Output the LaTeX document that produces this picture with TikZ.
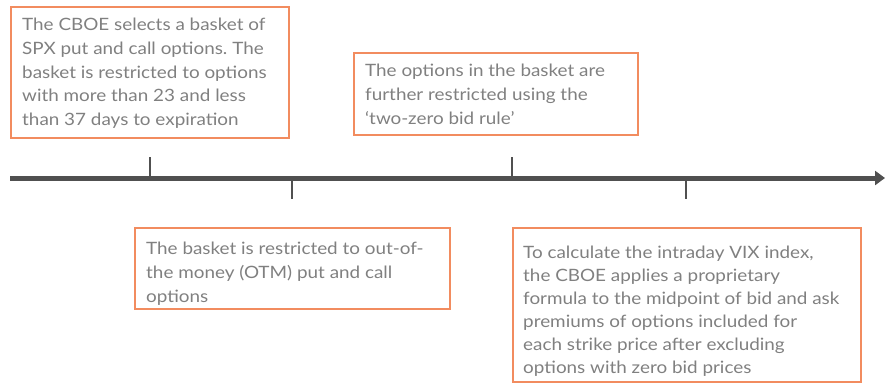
\documentclass[tikz,border=0pt]{standalone}
\usepackage{fontspec}
\setmainfont{Lato}[FakeStretch=1.11]
\usetikzlibrary{arrows.meta}
\definecolor{boxorange}{RGB}{242,140,95}
\definecolor{txtgray}{RGB}{128,128,128}
\definecolor{linegray}{RGB}{80,80,80}
\tikzset{
  infobox/.style={draw=boxorange, line width=1.5pt, anchor=north west, inner sep=0pt},
  infotext/.style={anchor=north west, align=left, inner sep=0pt, text=txtgray,
    font=\fontsize{17}{23.7}\selectfont\frenchspacing},
  tick/.style={draw=linegray, line width=2.5pt},
  axis/.style={draw=linegray, line width=5pt, -{Triangle[length=10pt,width=14pt]}}
}
\begin{document}
\begin{tikzpicture}[x=1pt,y=-1pt]
\useasboundingbox (0,0) rectangle (885,383);
% boxes
\node[infobox, minimum width=278pt, minimum height=131pt] (b1) at (10,6) {};
\node[infotext] (t1) at ([shift={(12,12)}]b1.north west)
  {The CBOE selects a basket of\\SPX put and call options. The\\basket is restricted to options\\with more than 23 and less\\than 37 days to expiration};
\node[infobox, minimum width=284pt, minimum height=82pt] (b2) at (353,52) {};
\node[infotext] (t2) at ([shift={(12,12)}]b2.north west)
  {The options in the basket are\\further restricted using the\\‘two-zero bid rule’};
\node[infobox, minimum width=315pt, minimum height=81pt] (b3) at (134,227) {};
\node[infotext] (t3) at ([shift={(12,15)}]b3.north west)
  {The basket is restricted to out-of-\\the money (OTM) put and call\\options};
\node[infobox, minimum width=348pt, minimum height=154pt] (b4) at (512,227) {};
\node[infotext, font=\fontsize{17}{23.1}\selectfont\frenchspacing] (t4) at ([shift={(11,18.5)}]b4.north west)
  {To calculate the intraday VIX index,\\the CBOE applies a proprietary\\formula to the midpoint of bid and ask\\premiums of options included for\\each strike price after excluding\\options with zero bid prices};
% timeline
\coordinate (start) at (10,178);
\coordinate (end) at (885,178);
\draw[axis] (start) -- (end);
\coordinate (t1a) at (150,157); \coordinate (t1b) at (150,178);
\coordinate (t2a) at (292,178); \coordinate (t2b) at (292,199);
\coordinate (t3a) at (512,157); \coordinate (t3b) at (512,178);
\coordinate (t4a) at (686,178); \coordinate (t4b) at (686,199);
\draw[tick] (t1a) -- (t1b);
\draw[tick] (t2a) -- (t2b);
\draw[tick] (t3a) -- (t3b);
\draw[tick] (t4a) -- (t4b);
\end{tikzpicture}
\end{document}
